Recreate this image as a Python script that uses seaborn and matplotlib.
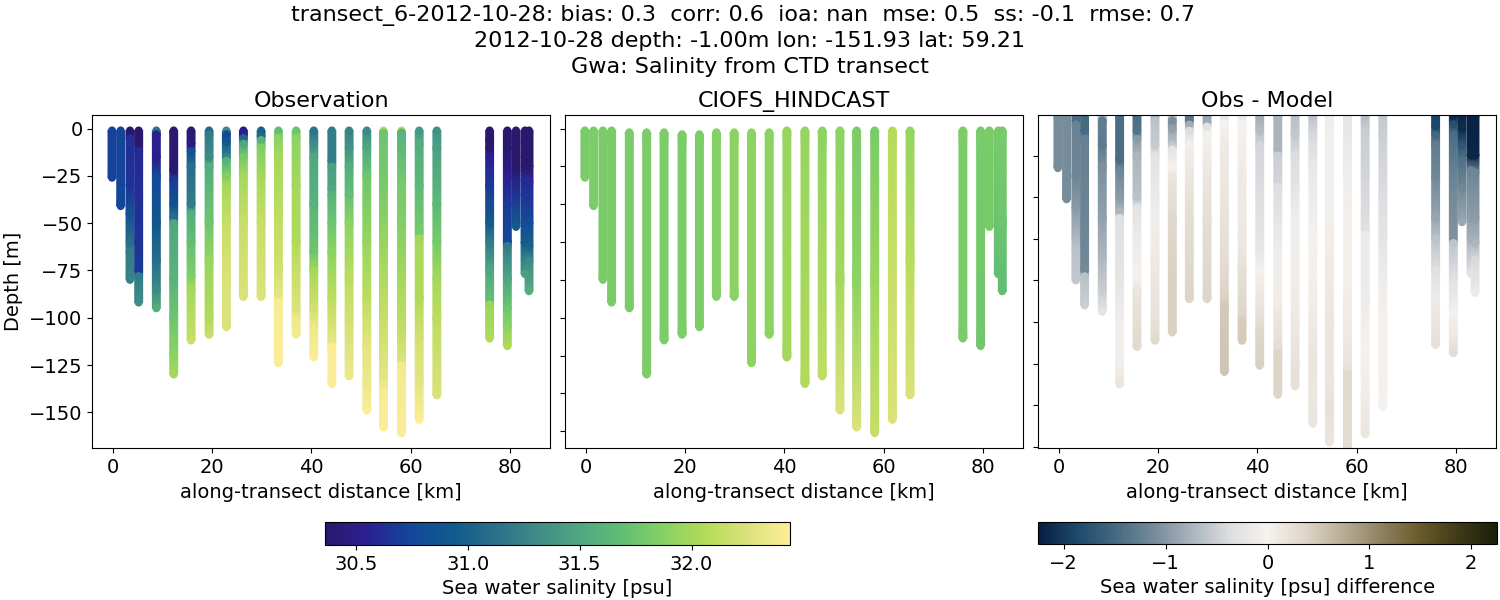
import numpy as np
import pandas as pd
import matplotlib
matplotlib.use("Agg")
import matplotlib.pyplot as plt
from matplotlib.colors import LinearSegmentedColormap, Normalize
from matplotlib.cm import ScalarMappable
import seaborn as sns

title_lines = [
    "transect_6-2012-10-28: bias: 0.3  corr: 0.6  ioa: nan  mse: 0.5  ss: -0.1  rmse: 0.7  ",
    "2012-10-28 depth: -1.00m lon: -151.93 lat: 59.21",
    "Gwa: Salinity from CTD transect",
]
panel_titles = ["Observation", "CIOFS_HINDCAST", "Obs - Model"]

cast_km = [-0.2, 1.55, 3.43, 5.18, 8.74, 12.24, 15.74, 19.37, 22.86, 26.29, 29.86, 33.35, 36.92,
           40.48, 44.12, 47.6, 51.17, 54.53, 58.17, 61.73, 65.29, 75.93, 79.5, 81.25, 83.07, 83.87]

obs_depth = [
    [1, 26], [1, 41],
    [1, 3.5, 5, 30, 45, 60, 65, 80],
    [1, 8, 12, 35, 60, 75, 78, 92],
    [1, 3, 15, 25, 50, 70, 85, 95],
    [1, 22, 27, 40, 47, 50, 80, 100, 120, 130],
    [1, 8, 12, 20, 40, 45, 60, 78, 85, 112],
    [1, 3, 15, 20, 50, 70, 100, 109],
    [1, 3, 7, 15, 17, 25, 30, 50, 80, 105],
    [1, 3, 5, 8, 15, 25, 50, 89],
    [1, 4, 6, 10, 25, 50, 89],
    [1, 5, 15, 45, 75, 87, 92, 124],
    [1, 5, 30, 60, 75, 95, 100, 109],
    [1, 8, 15, 40, 65, 75, 95, 105, 121],
    [1, 17, 20, 32, 35, 50, 65, 90, 112, 115, 135],
    [1, 10, 20, 35, 50, 80, 100, 120, 131],
    [1, 10, 25, 60, 90, 115, 135, 149],
    [1, 2, 30, 60, 100, 130, 140, 158],
    [1, 2, 10, 30, 50, 80, 110, 122, 125, 161],
    [1, 8, 30, 55, 58, 90, 110, 135, 154],
    [1, 10, 40, 60, 80, 100, 141],
    [1, 6, 10, 15, 30, 50, 60, 75, 90, 93, 111],
    [1, 5, 10, 25, 40, 60, 62, 80, 95, 105, 115],
    [1, 7, 15, 22, 35, 52],
    [1, 20, 27, 50, 60, 77],
    [1, 20, 28, 50, 62, 70, 86],
]
obs_salinity = [
    [30.72, 30.72], [30.74, 30.74],
    [30.37, 30.37, 30.62, 30.65, 30.85, 31.1, 31.2, 31.25],
    [30.33, 30.33, 30.6, 30.62, 30.65, 30.68, 31.2, 31.32],
    [31.15, 30.55, 30.52, 30.75, 30.9, 31.1, 31.3, 31.55],
    [30.38, 30.38, 30.68, 30.85, 31.1, 31.5, 31.6, 31.75, 31.9, 32.0],
    [30.38, 30.45, 30.85, 31.1, 31.2, 31.55, 31.7, 31.85, 32.0, 32.15],
    [31.05, 31.2, 31.3, 31.55, 31.75, 31.95, 32.05, 32.15],
    [31.3, 30.75, 30.9, 31.25, 31.6, 31.85, 32.0, 32.15, 32.25, 32.25],
    [30.5, 30.55, 31.05, 31.5, 31.8, 32.0, 32.15, 32.25],
    [31.0, 31.05, 31.6, 31.85, 32.0, 32.15, 32.25],
    [31.7, 31.9, 32.0, 32.1, 32.2, 32.3, 32.4, 32.42],
    [31.75, 31.9, 32.0, 32.05, 32.15, 32.25, 32.35, 32.38],
    [31.15, 31.3, 31.5, 31.6, 31.75, 32.0, 32.2, 32.35, 32.42],
    [31.2, 31.2, 31.45, 31.5, 31.6, 31.75, 31.9, 32.1, 32.3, 32.42, 32.42],
    [31.25, 31.35, 31.55, 31.7, 31.9, 32.1, 32.2, 32.3, 32.35],
    [31.3, 31.5, 31.75, 31.95, 32.1, 32.3, 32.35, 32.42],
    [32.1, 31.75, 31.8, 31.95, 32.15, 32.3, 32.4, 32.42],
    [32.1, 31.6, 31.65, 31.8, 31.85, 32.0, 32.15, 32.25, 32.38, 32.42],
    [31.4, 31.55, 31.65, 31.8, 32.0, 32.05, 32.2, 32.3, 32.42],
    [31.35, 31.45, 31.65, 31.8, 32.0, 32.1, 32.25],
    [29.92, 29.95, 30.3, 30.55, 30.68, 30.95, 31.2, 31.5, 31.7, 31.95, 32.05],
    [29.65, 30.05, 30.35, 30.55, 30.68, 30.75, 31.2, 31.5, 31.75, 31.9, 32.05],
    [29.65, 29.7, 30.1, 30.4, 30.65, 30.95],
    [29.6, 29.62, 30.6, 30.8, 30.95, 31.45],
    [29.6, 29.62, 30.6, 30.8, 31.0, 31.3, 31.55],
]

model_depth = [
    [1, 26], [1, 41], [1, 80], [1, 92], [2, 95], [2, 130], [2, 112], [3, 109], [3, 105],
    [2, 89], [2, 89], [2, 124], [2, 109], [1, 121], [1, 135], [1, 131],
    [1, 80, 149], [1, 80, 158], [1, 80, 161], [1, 154], [1, 70, 141],
    [1, 111], [1, 115], [1, 52], [1, 77], [1, 50, 86],
]
model_salinity = [
    [31.82, 31.82], [31.83, 31.83], [31.82, 31.82], [31.82, 31.82], [31.82, 31.82],
    [31.83, 31.83], [31.83, 31.83], [31.83, 31.83], [31.83, 31.83], [31.87, 31.87],
    [31.89, 31.89], [31.91, 31.91], [31.91, 31.91], [31.95, 32.0], [31.94, 32.05],
    [31.9, 32.12], [31.9, 32.0, 32.25], [31.83, 31.9, 32.25], [31.82, 31.96, 32.14],
    [32.06, 32.25], [31.93, 32.08, 32.25], [31.83, 31.82], [31.81, 31.78], [31.82, 31.81],
    [31.82, 31.7], [31.81, 31.75, 31.68],
]

haline_stops = ["#2a186c", "#2b1f92", "#14479a", "#0f5a8c", "#28708a", "#3f8b87",
                "#4ea682", "#60bd76", "#84d164", "#b4db58", "#dbe27a", "#fdee99"]
diff_stops = ["#071e40", "#1c4a6b", "#456981", "#748a99", "#aab4bd", "#dcdde0", "#f6f2ef",
              "#ddd5c8", "#b8ad94", "#8f8160", "#6a5a2a", "#3f3a16", "#1a1f0a"]
haline = LinearSegmentedColormap.from_list("haline_like", haline_stops)
diffmap = LinearSegmentedColormap.from_list("diff_like", diff_stops)
sal_norm = Normalize(30.36, 32.44)
diff_norm = Normalize(-2.25, 2.25)

W, H = 1500, 600


def px_axes(fig, left, right, top, bottom):
    return fig.add_axes([left / W, 1 - bottom / H, (right - left) / W, (bottom - top) / H])


def draw_casts(ax, depths, values, cmap, norm):
    half = 0.8
    rows = []
    for km, d, v in zip(cast_km, depths, values):
        d = np.asarray(d, float)
        v = np.asarray(v, float)
        xx, yy = np.meshgrid([km - half, km + half], -d)
        ax.pcolormesh(xx, yy, np.column_stack([v, v]), shading="gouraud", cmap=cmap, norm=norm)
        rows.append(pd.DataFrame({"km": km, "depth": -d, "value": v}))
    sns.scatterplot(data=pd.concat(rows), x="km", y="depth", hue="value", palette=cmap,
                    hue_norm=norm, s=33, linewidth=0, legend=False, ax=ax)


plt.rcParams["font.family"] = "DejaVu Sans"
plt.rcParams["font.size"] = 14

fig = plt.figure(figsize=(15, 6), dpi=100)
ax1 = px_axes(fig, 92.4, 550.0, 115.3, 448.3)
ax2 = px_axes(fig, 565.3, 1023.3, 115.3, 448.3)
ax3 = px_axes(fig, 1038.3, 1496.0, 115.3, 448.3)

diff_values = [np.asarray(os_) - np.interp(od, md, ms)
               for od, os_, md, ms in zip(obs_depth, obs_salinity, model_depth, model_salinity)]

draw_casts(ax1, obs_depth, obs_salinity, haline, sal_norm)
draw_casts(ax2, model_depth, model_salinity, haline, sal_norm)
draw_casts(ax3, obs_depth, diff_values, diffmap, diff_norm)

for ax, ttl in zip([ax1, ax2, ax3], panel_titles):
    ax.set_xlim(-4.15, 88.1)
    ax.set_xticks([0, 20, 40, 60, 80])
    ax.set_xlabel("along-transect distance [km]", fontsize=14)
    ax.set_ylabel("")
    ax.tick_params(labelsize=14)
    ax.set_title(ttl, fontsize=16)

ax1.set_ylim(-169, 7)
ax1.set_yticks([0, -25, -50, -75, -100, -125, -150])
ax1.set_ylabel("Depth [m]", fontsize=14)
ax2.set_ylim(-169, 7)
ax2.set_yticks([0, -20, -40, -60, -80, -100, -120, -140, -160])
ax2.tick_params(labelleft=False)
ax3.set_ylim(-160.7, -0.6)
ax3.set_yticks([-20, -40, -60, -80, -100, -120, -140, -160])
ax3.tick_params(labelleft=False)

cax1 = px_axes(fig, 324.6, 790.0, 522, 545)
cb1 = fig.colorbar(ScalarMappable(sal_norm, haline), cax=cax1, orientation="horizontal")
cb1.set_ticks([30.5, 31.0, 31.5, 32.0])
cb1.ax.tick_params(labelsize=14)
cb1.set_label("Sea water salinity [psu]", fontsize=14)

cax2 = px_axes(fig, 1038.3, 1496.7, 522, 544)
cb2 = fig.colorbar(ScalarMappable(diff_norm, diffmap), cax=cax2, orientation="horizontal")
cb2.set_ticks([-2, -1, 0, 1, 2])
cb2.ax.tick_params(labelsize=14)
cb2.set_label("Sea water salinity [psu] difference", fontsize=14)

fig.suptitle("\n".join(title_lines), x=0.5, y=0.992, fontsize=16, va="top", linespacing=1.34)

fig.savefig("out.png", dpi=100)
